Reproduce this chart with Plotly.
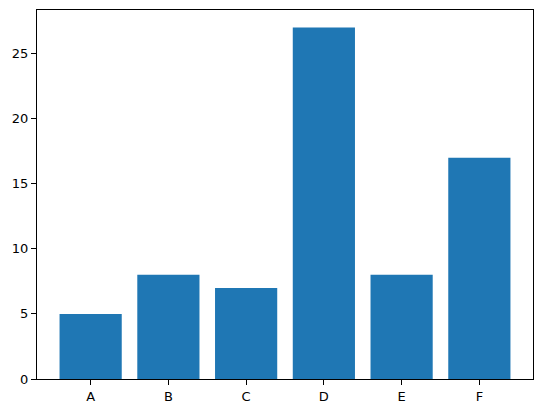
import plotly.graph_objects as go

categories = ["A", "B", "C", "D", "E", "F"]
values = [5, 8, 7, 27, 8, 17]
y_ticks = [0, 5, 10, 15, 20, 25]

xpos = list(range(len(categories)))

fig = go.Figure(go.Bar(x=xpos, y=values, width=0.8, marker=dict(color="#1f77b4", line=dict(width=0))))

axis_common = dict(
    showline=True, linecolor="black", linewidth=1, mirror=True,
    ticks="outside", ticklen=5, tickwidth=1, tickcolor="black",
    showgrid=False, zeroline=False,
    tickfont=dict(family="DejaVu Sans", size=13, color="black"),
)

fig.update_layout(
    width=543, height=413,
    margin=dict(l=37, r=10, t=10, b=34),
    plot_bgcolor="white", paper_bgcolor="white",
    showlegend=False,
    xaxis=dict(range=[-0.69, 5.69], tickmode="array", tickvals=xpos, ticktext=categories, automargin=False, **axis_common),
    yaxis=dict(range=[0, 28.35], tickmode="array", tickvals=y_ticks, ticktext=[str(t) for t in y_ticks], automargin=False, **axis_common),
)

fig.write_html(
    "out.html",
    config={"displayModeBar": False},
    post_script="document.body.style.margin='0';document.body.style.overflow='hidden';",
)
